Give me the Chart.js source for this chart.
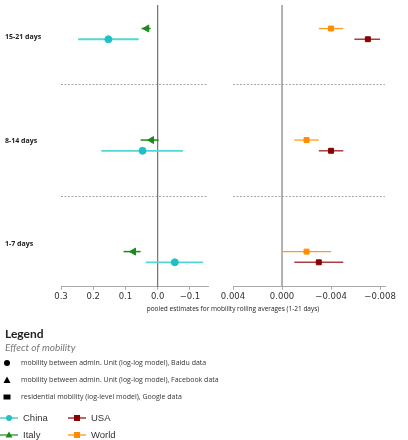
<html>
<head>
<script src="https://cdn.jsdelivr.net/npm/chart.js"></script>
<style>
  body { margin: 0; background: #fff; width: 408px; height: 440px; position: relative; overflow: hidden; }
  canvas { position: absolute; left: 0; top: 0; }
  .cat { position: absolute; left: 5px; font: bold 7px "Open Sans", sans-serif; color: #222; line-height: 10px; }
  .xtitle { position: absolute; left: 0; width: 466px; top: 304px; text-align: center; font: 6.5px "Open Sans", sans-serif; color: #222; }
  .lg-title { position: absolute; left: 5px; top: 326px; font: bold 12px Lato, sans-serif; color: #222; }
  .lg-sub { position: absolute; left: 5px; top: 341px; font: italic 10px Lato, sans-serif; color: #777; }
  .row { position: absolute; left: 3px; height: 10px; font: 7px "Open Sans", sans-serif; color: #333; line-height: 10px; }
  .row svg, .ser svg { vertical-align: middle; }
  .row span { position: absolute; left: 18px; top: 0; white-space: nowrap; }
  .ser { position: absolute; height: 12px; font: 9.5px "Liberation Sans", Arial, sans-serif; color: #333; line-height: 12px; white-space: nowrap; }
  .ser span { margin-left: 5px; }
</style>
</head>
<body>
<canvas id="left" width="408" height="310"></canvas>
<canvas id="right" width="408" height="310"></canvas>

<div class="cat" style="top:32px">15-21 days</div>
<div class="cat" style="top:136px">8-14 days</div>
<div class="cat" style="top:239px">1-7 days</div>
<div class="xtitle">pooled estimates for mobility rolling averages (1-21 days)</div>

<div class="lg-title">Legend</div>
<div class="lg-sub">Effect of mobility</div>
<div class="row" style="top:358px"><svg width="10" height="10"><circle cx="4" cy="5" r="3" fill="#000"/></svg><span>mobility between admin. Unit (log-log model), Baidu data</span></div>
<div class="row" style="top:375px"><svg width="10" height="10"><polygon points="4,1.5 7.5,8 0.5,8" fill="#000"/></svg><span>mobility between admin. Unit (log-log model), Facebook data</span></div>
<div class="row" style="top:392px"><svg width="10" height="10"><rect x="0.5" y="2.5" width="7" height="5" fill="#000"/></svg><span>residential mobility (log-level model), Google data</span></div>

<div class="ser" style="left:0;top:412px"><svg width="18" height="10"><line x1="0" y1="5" x2="18" y2="5" stroke="#1fc3c3" stroke-width="1.2"/><circle cx="9" cy="5" r="3" fill="#1fc3c3"/></svg><span>China</span></div>
<div class="ser" style="left:0;top:429px"><svg width="18" height="10"><line x1="0" y1="5" x2="18" y2="5" stroke="#1a8a1a" stroke-width="1.2"/><polygon points="9,1.5 12.5,7.5 5.5,7.5" fill="#1a8a1a"/></svg><span>Italy</span></div>
<div class="ser" style="left:68px;top:412px"><svg width="18" height="10"><line x1="0" y1="5" x2="18" y2="5" stroke="#8b0000" stroke-width="1.2"/><rect x="6" y="2" width="6" height="6" fill="#8b0000"/></svg><span>USA</span></div>
<div class="ser" style="left:68px;top:429px"><svg width="18" height="10"><line x1="0" y1="5" x2="18" y2="5" stroke="#ff8c00" stroke-width="1.2"/><rect x="6" y="2" width="6" height="6" fill="#ff8c00"/></svg><span>World</span></div>

<script>
  // categories, bottom to top: 1-7, 8-14, 15-21 days
  const categories = ['1-7 days', '8-14 days', '15-21 days'];

  // left panel (log-log models)
  const chinaEst = [-0.053, 0.047, 0.153];
  const chinaLow = [-0.141, -0.078, 0.059];
  const chinaHigh = [0.037, 0.175, 0.247];
  const italyEst = [0.075, 0.019, 0.034];
  const italyLow = [0.053, -0.003, 0.022];
  const italyHigh = [0.106, 0.053, 0.050];

  // right panel (log-level model)
  const usaEst = [-0.0030, -0.0040, -0.0070];
  const usaLow = [-0.0050, -0.0050, -0.0080];
  const usaHigh = [-0.0010, -0.0030, -0.0059];
  const worldEst = [-0.0020, -0.0020, -0.0040];
  const worldLow = [-0.0040, -0.0030, -0.0050];
  const worldHigh = [0.0000, -0.0010, -0.0030];

  const leftTicks = [0.3, 0.2, 0.1, 0.0, -0.1];
  const rightTicks = [0.004, 0.000, -0.004, -0.008];
  const separators = [0.55, 1.55];

  const OFF = 0.048; // vertical dodge between the two series of a group

  function points(est, low, high, dy) {
    return est.map((v, i) => ({ x: v, y: i + dy, lo: low[i], hi: high[i] }));
  }

  function fmt(digits) {
    return v => (v < 0 ? '\u2212' : '') + Math.abs(v).toFixed(digits);
  }

  // separators, zero line and confidence bars
  const extras = {
    id: 'extras',
    beforeDatasetsDraw(chart, args, opts) {
      const { ctx, chartArea: a, scales: { x, y } } = chart;
      ctx.save();
      ctx.strokeStyle = '#aaa';
      ctx.lineWidth = 1;
      ctx.setLineDash([2, 1.5]);
      separators.forEach(v => {
        const py = Math.round(y.getPixelForValue(v)) + 0.5;
        ctx.beginPath(); ctx.moveTo(a.left, py); ctx.lineTo(a.right, py); ctx.stroke();
      });
      ctx.setLineDash([]);
      const px = x.getPixelForValue(0);
      ctx.strokeStyle = opts.zeroColor;
      ctx.lineWidth = opts.zeroWidth;
      ctx.beginPath(); ctx.moveTo(px, a.top); ctx.lineTo(px, a.bottom); ctx.stroke();
      chart.data.datasets.forEach(ds => {
        ctx.strokeStyle = ds.barColor;
        ctx.lineWidth = ds.barWidth;
        ds.data.forEach(p => {
          const py = y.getPixelForValue(p.y);
          ctx.beginPath();
          ctx.moveTo(x.getPixelForValue(p.lo), py);
          ctx.lineTo(x.getPixelForValue(p.hi), py);
          ctx.stroke();
        });
      });
      ctx.restore();
    }
  };

  function makePanel(el, datasets, min, max, ticks, digits, padding, zero) {
    return new Chart(document.getElementById(el), {
      type: 'scatter',
      data: { datasets: datasets },
      plugins: [extras],
      options: {
        responsive: false,
        animation: false,
        layout: { padding: padding },
        plugins: {
          legend: { display: false },
          tooltip: { enabled: false },
          extras: zero
        },
        scales: {
          x: {
            type: 'linear', reverse: true, min: min, max: max,
            afterBuildTicks: s => { s.ticks = ticks.map(v => ({ value: v })); },
            ticks: { callback: fmt(digits), color: '#333', padding: 2, maxRotation: 0,
                     font: { family: 'DejaVu Sans', size: 8.5 } },
            grid: { drawOnChartArea: false, drawTicks: true, tickLength: 3, color: '#aaa' },
            border: { color: '#aaa' }
          },
          y: { display: false, min: -0.2675, max: 2.259 }
        }
      }
    });
  }

  makePanel('left', [
    { label: 'Italy', data: points(italyEst, italyLow, italyHigh, OFF), pointStyle: 'triangle', rotation: -90,
      pointRadius: 4, backgroundColor: '#1a8a1a', borderColor: '#1a8a1a', barColor: '#1a8a1a', barWidth: 1.5 },
    { label: 'China', data: points(chinaEst, chinaLow, chinaHigh, -OFF), pointStyle: 'circle',
      pointRadius: 3.5, backgroundColor: '#1cc0c6', borderColor: '#1cc0c6', barColor: '#55d6d6', barWidth: 1.8 }
  ], -0.156, 0.3, leftTicks, 1, { left: 61, right: 200, top: 0, bottom: 6 }, { zeroColor: '#555', zeroWidth: 1 });

  makePanel('right', [
    { label: 'World', data: points(worldEst, worldLow, worldHigh, OFF), pointStyle: 'rect',
      pointRadius: 3.5, backgroundColor: '#ff8c00', borderColor: '#ff8c00', barColor: '#ff9a20', barWidth: 1.3 },
    { label: 'USA', data: points(usaEst, usaLow, usaHigh, -OFF), pointStyle: 'rect',
      pointRadius: 3.5, backgroundColor: '#8b0000', borderColor: '#8b0000', barColor: '#a84040', barWidth: 1.5 }
  ], -0.0084, 0.004, rightTicks, 3, { left: 233, right: 23, top: 0, bottom: 6 }, { zeroColor: '#999', zeroWidth: 1.5 });
</script>
</body>
</html>
